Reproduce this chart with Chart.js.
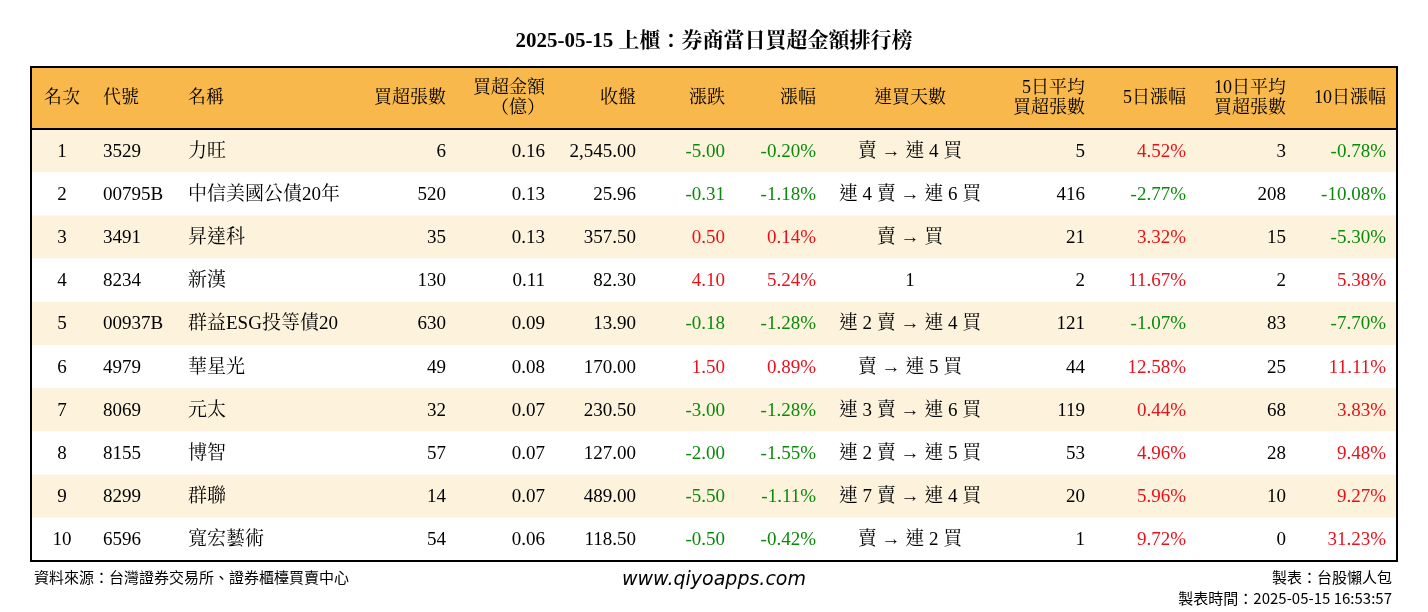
<!DOCTYPE html>
<html><head><meta charset="utf-8">
<script src="https://cdn.jsdelivr.net/npm/chart.js@4"></script>
<style>html,body{margin:0;background:#fff}#c{display:block}</style>
</head><body>
<div style="width:1428px;height:612px"><canvas id="c"></canvas></div>
<script>
// 資料
const ranks = ["1","2","3","4","5","6","7","8","9","10"];
const codes = ["3529","00795B","3491","8234","00937B","4979","8069","8155","8299","6596"];
const names = ["力旺","中信美國公債20年","昇達科","新漢","群益ESG投等債20","華星光","元太","博智","群聯","寬宏藝術"];
const buyLots = [6,520,35,130,630,49,32,57,14,54];
const buyAmount = [0.16,0.13,0.13,0.11,0.09,0.08,0.07,0.07,0.07,0.06];
const closes = [2545.00,25.96,357.50,82.30,13.90,170.00,230.50,127.00,489.00,118.50];
const changes = [-5.00,-0.31,0.50,4.10,-0.18,1.50,-3.00,-2.00,-5.50,-0.50];
const changePct = [-0.20,-1.18,0.14,5.24,-1.28,0.89,-1.28,-1.55,-1.11,-0.42];
const streaks = ["賣 → 連 4 買","連 4 賣 → 連 6 買","賣 → 買","1","連 2 賣 → 連 4 買","賣 → 連 5 買","連 3 賣 → 連 6 買","連 2 賣 → 連 5 買","連 7 賣 → 連 4 買","賣 → 連 2 買"];
const avg5 = [5,416,21,2,121,44,119,53,20,1];
const pct5 = [4.52,-2.77,3.32,11.67,-1.07,12.58,0.44,4.96,5.96,9.72];
const avg10 = [3,208,15,2,83,25,68,28,10,0];
const pct10 = [-0.78,-10.08,-5.30,5.38,-7.70,11.11,3.83,9.48,9.27,31.23];

const SERIF = '"Liberation Serif","Noto Serif CJK TC","Noto Sans CJK TC",serif';
const GREEN = "#0a8a0a", RED = "#e8101a";
const fmt2 = v => v.toLocaleString("en-US",{minimumFractionDigits:2,maximumFractionDigits:2});
const pc = v => fmt2(v) + "%";
const col = v => v < 0 ? GREEN : (v > 0 ? RED : "#000");

// 欄位: [標題, x, 對齊, 取值, 顏色]
const columns = [
  [["名次"], 62, "center", i => ranks[i]],
  [["代號"], 103, "left", i => codes[i]],
  [["名稱"], 188, "left", i => names[i]],
  [["買超張數"], 446, "right", i => String(buyLots[i])],
  [["買超金額","（億）"], 545, "right", i => fmt2(buyAmount[i])],
  [["收盤"], 636, "right", i => fmt2(closes[i])],
  [["漲跌"], 725, "right", i => fmt2(changes[i]), i => col(changes[i])],
  [["漲幅"], 816, "right", i => pc(changePct[i]), i => col(changePct[i])],
  [["連買天數"], 910, "center", i => streaks[i]],
  [["5日平均","買超張數"], 1085, "right", i => String(avg5[i])],
  [["5日漲幅"], 1186, "right", i => pc(pct5[i]), i => col(pct5[i])],
  [["10日平均","買超張數"], 1286, "right", i => String(avg10[i])],
  [["10日漲幅"], 1386, "right", i => pc(pct10[i]), i => col(pct10[i])]
];

const tablePlugin = {
  id: "table",
  beforeDatasetsDraw(chart) {
    const ctx = chart.ctx, y = chart.scales.y, a = chart.chartArea;
    const L = 31, R = 1397, headTop = 67;
    const step = y.getPixelForValue(1) - y.getPixelForValue(0);
    ctx.save();
    // 標題
    ctx.fillStyle = "#000";
    ctx.textAlign = "center"; ctx.textBaseline = "middle";
    ctx.font = "bold 21px " + SERIF;
    ctx.fillText("2025-05-15 上櫃：券商當日買超金額排行榜", 714, 42);
    // 表頭
    ctx.fillStyle = "#f8b84c";
    ctx.fillRect(L, headTop, R - L, a.top - headTop);
    // 列背景
    ranks.forEach((r, i) => {
      const cy = y.getPixelForValue(i);
      ctx.fillStyle = i % 2 === 0 ? "#fdf3dc" : "#ffffff";
      ctx.fillRect(L, cy - step / 2, R - L, step);
    });
    // 表頭文字
    ctx.fillStyle = "#000";
    ctx.font = "18px " + SERIF;
    columns.forEach(c => {
      ctx.textAlign = c[2];
      const lines = c[0];
      if (lines.length === 1) ctx.fillText(lines[0], c[1], 98);
      else { ctx.fillText(lines[0], c[1], 88); ctx.fillText(lines[1], c[1], 108); }
    });
    // 內容
    ctx.font = "19px " + SERIF;
    ranks.forEach((r, i) => {
      const cy = y.getPixelForValue(i) + 1;
      columns.forEach(c => {
        ctx.textAlign = c[2];
        ctx.fillStyle = c[4] ? c[4](i) : "#000";
        ctx.fillText(c[3](i), c[1], cy);
      });
    });
    // 框線
    ctx.strokeStyle = "#000"; ctx.lineWidth = 2;
    ctx.strokeRect(L, headTop, R - L, a.bottom - headTop);
    ctx.beginPath(); ctx.moveTo(L, a.top); ctx.lineTo(R, a.top); ctx.stroke();
    // 頁尾
    ctx.fillStyle = "#000";
    ctx.font = '15px "Noto Sans CJK TC",sans-serif';
    ctx.textAlign = "left";
    ctx.fillText("資料來源：台灣證券交易所、證券櫃檯買賣中心", 34, 577);
    ctx.textAlign = "right";
    ctx.fillText("製表：台股懶人包", 1392, 577);
    ctx.fillText("製表時間：2025-05-15 16:53:57", 1392, 598);
    ctx.textAlign = "center";
    ctx.font = 'italic 19px "DejaVu Sans",sans-serif';
    ctx.fillText("www.qiyoapps.com", 714, 580);
    ctx.restore();
  }
};

new Chart(document.getElementById("c"), {
  type: "bar",
  data: { labels: ranks, datasets: [{ data: buyAmount.map(() => 0), backgroundColor: "rgba(0,0,0,0)" }] },
  options: {
    indexAxis: "y",
    responsive: true, maintainAspectRatio: false, animation: false,
    layout: { padding: { top: 129, bottom: 51, left: 31, right: 31 } },
    plugins: { legend: { display: false }, tooltip: { enabled: false } },
    scales: { x: { display: false }, y: { display: false, offset: true } }
  },
  plugins: [tablePlugin]
});
</script>
</body></html>
